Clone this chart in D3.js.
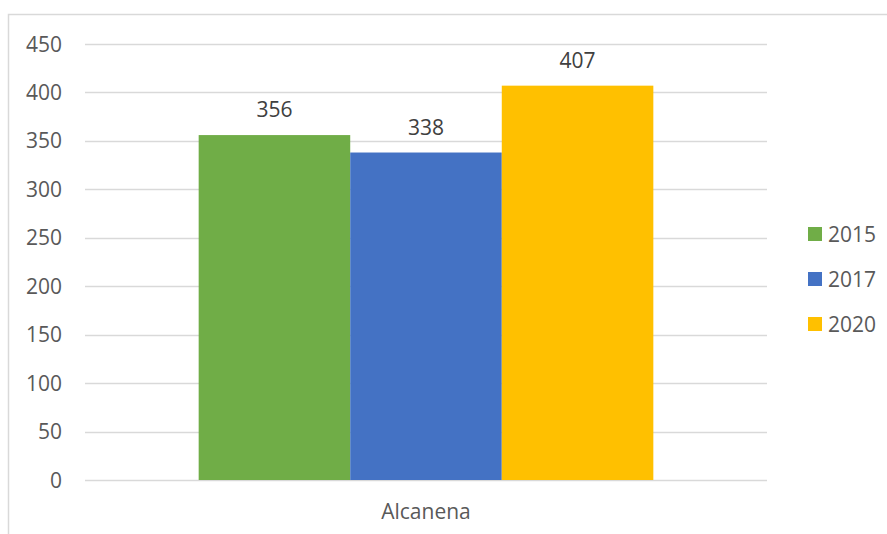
<!DOCTYPE html>
<html>
<head>
<meta charset="utf-8">
<script src="https://cdn.jsdelivr.net/npm/d3@7"></script>
<style>
  body { margin: 0; background: #fff; }
  svg { display: block; font-family: 'Open Sans', sans-serif; }
</style>
</head>
<body>
<svg id="chart" width="887" height="534"></svg>
<script>
var categories = ['Alcanena']
var seriesNames = ['2015', '2017', '2020']
var seriesValues = [[356], [338], [407]]
var seriesColors = ['#70ad47', '#4472c4', '#ffc000']
var yTicks = [0, 50, 100, 150, 200, 250, 300, 350, 400, 450]

var svg = d3.select('#chart')
var plot = { left: 85, right: 767, top: 44, bottom: 480 }
var fontSize = 21

// outer chart border
svg.append('rect')
  .attr('x', 8.5).attr('y', 14.5)
  .attr('width', 900).attr('height', 540)
  .attr('fill', 'none')
  .attr('stroke', '#d9d9d9')
  .attr('stroke-width', 1.5)

var y = d3.scaleLinear().domain([0, 450]).range([plot.bottom, plot.top])
var x0 = d3.scaleBand().domain(categories).range([plot.left, plot.right])
  .paddingInner(0).paddingOuter(0.25)
var x1 = d3.scaleBand().domain(seriesNames).range([0, x0.bandwidth()])

// gridlines
svg.append('g')
  .selectAll('line')
  .data(yTicks)
  .enter()
  .append('line')
  .attr('x1', plot.left)
  .attr('x2', plot.right)
  .attr('y1', function(d) { return Math.round(y(d)) + 0.5 })
  .attr('y2', function(d) { return Math.round(y(d)) + 0.5 })
  .attr('stroke', '#d9d9d9')
  .attr('stroke-width', 1.5)

// y labels
svg.append('g')
  .selectAll('text')
  .data(yTicks)
  .enter()
  .append('text')
  .attr('x', 62)
  .attr('y', function(d) { return y(d) })
  .attr('dy', '0.36em')
  .attr('text-anchor', 'end')
  .attr('font-size', fontSize)
  .attr('fill', '#595959')
  .text(function(d) { return d })

// bars
var groups = svg.append('g')
  .selectAll('g')
  .data(categories)
  .enter()
  .append('g')
  .attr('transform', function(d) { return 'translate(' + x0(d) + ',0)' })

groups.selectAll('rect')
  .data(function(d, ci) {
    return seriesNames.map(function(s, si) {
      return { s: s, v: seriesValues[si][ci], c: seriesColors[si] }
    })
  })
  .enter()
  .append('rect')
  .attr('x', function(d) { return x1(d.s) })
  .attr('width', x1.bandwidth())
  .attr('y', function(d) { return y(d.v) })
  .attr('height', function(d) { return y(0) - y(d.v) })
  .attr('fill', function(d) { return d.c })

// value labels
groups.selectAll('text')
  .data(function(d, ci) {
    return seriesNames.map(function(s, si) {
      return { s: s, v: seriesValues[si][ci] }
    })
  })
  .enter()
  .append('text')
  .attr('x', function(d) { return x1(d.s) + x1.bandwidth() / 2 })
  .attr('y', function(d) { return y(d.v) - 18 })
  .attr('text-anchor', 'middle')
  .attr('font-size', fontSize)
  .attr('fill', '#404040')
  .text(function(d) { return d.v })

// x label
svg.append('g')
  .selectAll('text')
  .data(categories)
  .enter()
  .append('text')
  .attr('x', function(d) { return x0(d) + x0.bandwidth() / 2 })
  .attr('y', 519)
  .attr('text-anchor', 'middle')
  .attr('font-size', fontSize)
  .attr('fill', '#595959')
  .text(function(d) { return d })

// legend
var legend = svg.append('g')
  .selectAll('g')
  .data(seriesNames)
  .enter()
  .append('g')
  .attr('transform', function(d, i) { return 'translate(808,' + (234 + i * 45) + ')' })
legend.append('rect')
  .attr('x', 0).attr('y', -7)
  .attr('width', 14).attr('height', 14)
  .attr('fill', function(d, i) { return seriesColors[i] })
legend.append('text')
  .attr('x', 20)
  .attr('dy', '0.36em')
  .attr('font-size', fontSize)
  .attr('fill', '#595959')
  .text(function(d) { return d })
</script>
</body>
</html>
